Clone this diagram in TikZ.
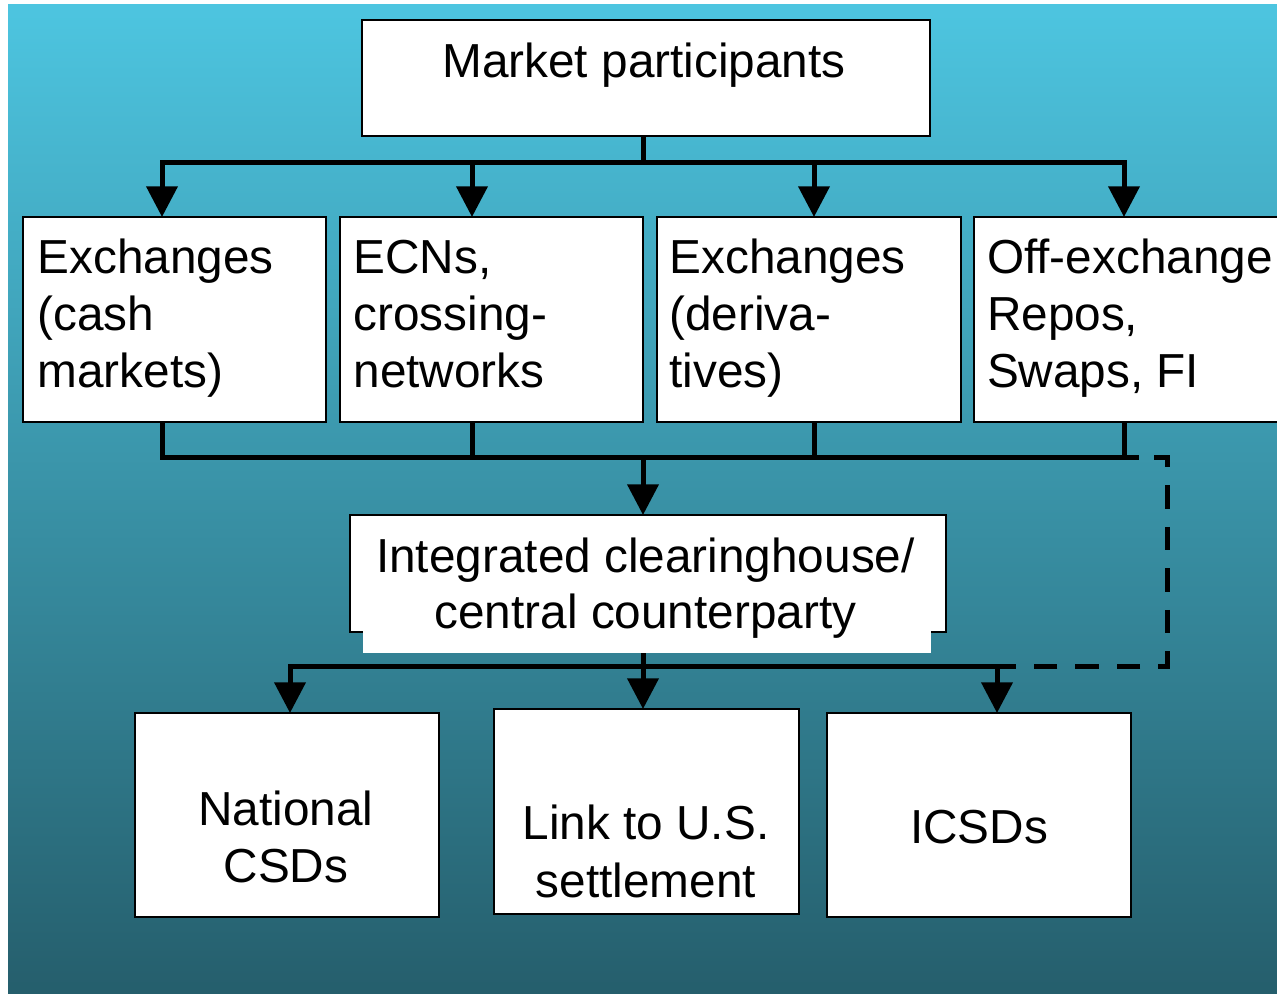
\documentclass[tikz,border=0pt]{standalone}
\usepackage{fontspec}
\setmainfont{Liberation Sans}
\usetikzlibrary{arrows.meta}
\definecolor{skytop}{HTML}{4DC5E0}
\definecolor{deepsea}{HTML}{255E6C}
\begin{document}
\begin{tikzpicture}[x=0.75pt,y=-0.75pt,
  box/.style={draw=black, line width=1.3pt, fill=white, inner sep=0pt, outer sep=0pt},
  lbl/.style={inner sep=0pt, outer sep=0pt, text=black,
              font=\fontsize{35.8pt}{43.1pt}\selectfont},
  wire/.style={line width=3.75pt, line cap=rect},
  stem/.style={line width=3.75pt},
  feed/.style={line width=3.75pt, -{Triangle[length=23pt,width=23pt]}},
  link/.style={line width=3.75pt, dash pattern=on 17.6pt off 13.5pt, dash phase=17.6pt}
]
\clip (0,0) rectangle (1277,994);
% backdrop
\shade[top color=skytop, bottom color=deepsea] (8,5) rectangle (1277,994);

% top box
\node[box, minimum width=426pt, minimum height=87pt] (mp) at (646,78) {};
\node[lbl, anchor=base] (mpt) at (644,78) {Market participants};

% trading venues (text anchored on the baseline of its last line)
\node[box, minimum width=227.25pt, minimum height=153.75pt] (ex)  at (174.5,319.5) {};
\node[box, minimum width=227.25pt, minimum height=153.75pt] (ecn) at (491.5,319.5) {};
\node[box, minimum width=228pt,    minimum height=153.75pt] (der) at (809,319.5) {};
\node[box, minimum width=231pt,    minimum height=153.75pt] (otc) at (1128,319.5) {};
\node[lbl, align=left, anchor=base west] (ext)  at (37.5,388)  {Exchanges\\(cash\\markets)};
\node[lbl, align=left, anchor=base west] (ecnt) at (353.5,388) {ECNs,\\crossing-\\networks};
\node[lbl, align=left, anchor=base west] (dert) at (669.5,388) {Exchanges\\(deriva-\\tives)};
\node[lbl, align=left, anchor=base west] (otct) at (987,388) {Off-exchange\\Repos,\\Swaps, FI};

% clearinghouse
\node[box, minimum width=447pt, minimum height=87.75pt] (ch) at (648,573.5) {};
\node[fill=white, inner sep=0pt, outer sep=0pt, minimum width=426pt, minimum height=16.9pt] (chp) at (647,641.75) {};
\node[lbl, align=center, anchor=base, font=\fontsize{35.8pt}{42pt}\selectfont] (cht) at (645.5,628)
  {Integrated clearinghouse/\\central counterparty};

% settlement
\node[box, minimum width=228pt,    minimum height=153pt]    (nat)  at (287,815) {};
\node[box, minimum width=228.75pt, minimum height=153.75pt] (us)   at (646.5,811.5) {};
\node[box, minimum width=228pt,    minimum height=153pt]    (icsd) at (979,815) {};
\node[lbl, align=center, anchor=base] (natt)  at (286,882.7) {National\\CSDs};
\node[lbl, align=center, anchor=base] (ust)   at (646,897) {Link to U.S.\\settlement};
\node[lbl, align=center, anchor=base] (icsdt) at (979,843) {ICSDs};

% bus under the participants
\coordinate (hubA) at (643,163);
\coordinate (a1) at (162,163);
\coordinate (a2) at (472,163);
\coordinate (a3) at (814,163);
\coordinate (a4) at (1124,163);
\draw[wire] (a1) -- (a4);
\draw[stem] (mp.south -| hubA) -- (hubA);
\foreach \c/\n in {a1/ex,a2/ecn,a3/der,a4/otc}
  \draw[feed] (\c) -- (\c |- \n.north);

% bus collecting the venues
\coordinate (hubB) at (643,457);
\coordinate (m1) at (162,457);
\coordinate (m2) at (472,457);
\coordinate (m3) at (814,457);
\coordinate (m4) at (1124,457);
\coordinate (mE) at (1136,457);
\draw[wire] (m1) -- (mE);
\foreach \c/\n in {m1/ex,m2/ecn,m3/der,m4/otc}
  \draw[stem] (\c |- \n.south) -- (\c);
\draw[feed] (hubB) -- (hubB |- ch.north);

% bus to the depositories
\coordinate (hubC) at (643,666);
\coordinate (l1) at (290,666);
\coordinate (l2) at (643,666);
\coordinate (l3) at (997,666);
\draw[wire] (l1) -- (l3);
\draw[stem] (chp.south -| hubC) -- (hubC);
\foreach \c/\n in {l1/nat,l2/us,l3/icsd}
  \draw[feed] (\c) -- (\c |- \n.north);

% bypass from off-exchange trades
\coordinate (d1) at (1167,457);
\coordinate (d2) at (1167,666);
\draw[link] (mE) -- (d1) -- (d2) -- (l3);
\end{tikzpicture}
\end{document}
